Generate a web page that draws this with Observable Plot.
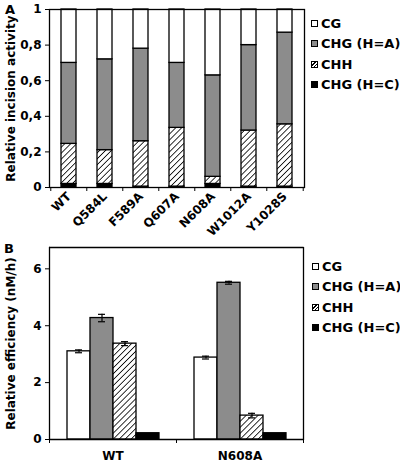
<!DOCTYPE html>
<html>
<head>
<meta charset="utf-8">
<script src="https://cdn.jsdelivr.net/npm/d3@7"></script>
<script src="https://cdn.jsdelivr.net/npm/@observablehq/plot@0.6"></script>
<style>
  html, body { margin: 0; padding: 0; background: #fff; }
  #wrap { position: relative; width: 400px; height: 463px; font-family: "DejaVu Sans", sans-serif; font-weight: bold; color: #000; }
  #wrap svg { display: block; }
  .lg { position: absolute; font-size: 13px; line-height: 15px; white-space: nowrap; }
  .lg .sw { position: absolute; left: 0; top: 4px; width: 7px; height: 7px; box-sizing: border-box; border: 1px solid #000; }
  .lg span.t { position: absolute; left: 10px; top: 0; }
  .panel { position: absolute; font-size: 13px; }
</style>
</head>
<body>
<div id="wrap"></div>
<script>
// ---------- data ----------
const seriesNames = ["CG", "CHG (H=A)", "CHH", "CHG (H=C)"];
const stackOrder = ["CHG (H=C)", "CHH", "CHG (H=A)", "CG"];

// Panel A: relative incision activity (segment sizes)
const mutantsA = ["WT", "Q584L", "F589A", "Q607A", "N608A", "W1012A", "Y1028S"];
const cgA   = [0.30, 0.28, 0.22, 0.30, 0.37, 0.20, 0.13];
const chgAA = [0.455, 0.51, 0.52, 0.365, 0.57, 0.48, 0.515];
const chhA  = [0.225, 0.19, 0.255, 0.33, 0.04, 0.315, 0.35];
const chgCA = [0.02, 0.02, 0.005, 0.005, 0.02, 0.005, 0.005];
const yTicksA = [0, 0.2, 0.4, 0.6, 0.8, 1];
const yTickLabelsA = ["0", "0,2", "0,4", "0,6", "0,8", "1"];

// Panel B: relative efficiency (nM/h)
const mutantsB = ["WT", "N608A"];
const cgB   = [3.10, 2.88];
const chgAB = [4.27, 5.51];
const chhB  = [3.37, 0.84];
const chgCB = [0.22, 0.22];
const errCgB   = [0.05, 0.05];
const errChgAB = [0.13, 0.05];
const errChhB  = [0.07, 0.08];
const errChgCB = [0, 0];
const yTicksB = [0, 2, 4, 6];
const yTickLabelsB = ["0", "2", "4", "6"];
const yMaxB = 6.75;

// ---------- styles ----------
const fills = ["#ffffff", "#8c8c8c", "url(#hatch)", "#000000"];
const W = 400;
const font = {fontFamily: "DejaVu Sans, sans-serif", fontWeight: "bold", fontSize: "12px", color: "#000", background: "#fff", overflow: "visible"};

const hatchDefs = `<defs><pattern id="hatch" patternUnits="userSpaceOnUse" width="4.2" height="4.2" patternTransform="rotate(45)">
<rect width="4.2" height="4.2" fill="#fff"/><line x1="0" y1="0" x2="0" y2="4.2" stroke="#000" stroke-width="1.6"/></pattern></defs>`;

// ---------- Panel A ----------
const valsA = {"CG": cgA, "CHG (H=A)": chgAA, "CHH": chhA, "CHG (H=C)": chgCA};
const dataA = [];
mutantsA.forEach((m, i) => stackOrder.forEach(s => dataA.push({mutant: m, series: s, value: valsA[s][i]})));

const mlA = 49, mrA = 96;
const stepA = (W - mlA - mrA) / mutantsA.length;

const plotA = Plot.plot({
  width: W, height: 231,
  marginLeft: mlA, marginRight: mrA, marginTop: 9, marginBottom: 44,
  style: font,
  x: {domain: mutantsA, paddingInner: 0.59, paddingOuter: 0.295, axis: null},
  y: {domain: [0, 1], axis: null},
  color: {domain: seriesNames, range: fills, type: "ordinal"},
  marks: [
    Plot.barY(dataA, Plot.stackY({x: "mutant", y: "value", fill: "series", order: stackOrder, stroke: "#000", strokeWidth: 1.3})),
    Plot.frame({stroke: "#000", strokeWidth: 1.3}),
    Plot.axisY({ticks: yTicksA, tickFormat: (d) => yTickLabelsA[yTicksA.indexOf(d)], tickSize: 4, tickPadding: 4, fontSize: 12,
      label: "Relative incision activity", labelAnchor: "center", labelArrow: "none", labelOffset: 43}),
    Plot.axisX({tickSize: 0, tickRotate: -45, tickPadding: 7, fontSize: 12, label: null}),
    Plot.axisX({tickSize: 4, tickFormat: () => "", dx: -stepA / 2, label: null}),
    Plot.axisX({ticks: [mutantsA[mutantsA.length - 1]], tickSize: 4, tickFormat: () => "", dx: stepA / 2, label: null})
  ]
});
plotA.insertAdjacentHTML("afterbegin", hatchDefs);

// ---------- Panel B ----------
const valsB = {"CG": cgB, "CHG (H=A)": chgAB, "CHH": chhB, "CHG (H=C)": chgCB};
const errsB = {"CG": errCgB, "CHG (H=A)": errChgAB, "CHH": errChhB, "CHG (H=C)": errChgCB};
const dataB = [];
mutantsB.forEach((m, i) => seriesNames.forEach(s => dataB.push({mutant: m, series: s, value: valsB[s][i], err: errsB[s][i]})));
const errDataB = dataB.filter(d => d.err > 0);

const mlB = 49, mrB = 97;
const facetW = (W - mlB - mrB) / mutantsB.length;

const plotB = Plot.plot({
  width: W, height: 232,
  marginLeft: mlB, marginRight: mrB, marginTop: 16, marginBottom: 24,
  style: font,
  fx: {domain: mutantsB, padding: 0, axis: null},
  x: {domain: seriesNames, paddingInner: 0, paddingOuter: 0.76, axis: null},
  y: {domain: [0, yMaxB], axis: null},
  color: {domain: seriesNames, range: fills, type: "ordinal"},
  marks: [
    Plot.barY(dataB, {fx: "mutant", x: "series", y: "value", fill: "series", stroke: "#000", strokeWidth: 1.3}),
    Plot.ruleX(errDataB, {fx: "mutant", x: "series", y1: d => d.value - d.err, y2: d => d.value + d.err, stroke: "#000", strokeWidth: 1.2}),
    Plot.tickY(errDataB, {fx: "mutant", x: "series", y: d => d.value - d.err, insetLeft: 8, insetRight: 8, stroke: "#000", strokeWidth: 1.2}),
    Plot.tickY(errDataB, {fx: "mutant", x: "series", y: d => d.value + d.err, insetLeft: 8, insetRight: 8, stroke: "#000", strokeWidth: 1.2}),
    Plot.ruleY([0, yMaxB], {stroke: "#000", strokeWidth: 1.3}),
    Plot.frame({anchor: "left", facetAnchor: "left", stroke: "#000", strokeWidth: 1.3}),
    Plot.frame({anchor: "right", facetAnchor: "right", stroke: "#000", strokeWidth: 1.3}),
    Plot.axisY({ticks: yTicksB, tickFormat: (d) => yTickLabelsB[yTicksB.indexOf(d)], tickSize: 4, tickPadding: 4, fontSize: 12, facetAnchor: "left",
      label: "Relative efficiency (nM/h)", labelAnchor: "center", labelArrow: "none", labelOffset: 43}),
    Plot.axisFx({anchor: "bottom", tickSize: 0, tickPadding: 12, fontSize: 12, label: null}),
    Plot.axisFx({anchor: "bottom", tickSize: 4, tickFormat: () => "", dx: -facetW / 2, label: null}),
    Plot.axisFx({anchor: "bottom", ticks: [mutantsB[mutantsB.length - 1]], tickSize: 4, tickFormat: () => "", dx: facetW / 2, label: null})
  ]
});
plotB.insertAdjacentHTML("afterbegin", hatchDefs.replace(/hatch/g, "hatchB"));
plotB.querySelectorAll('[fill="url(#hatch)"]').forEach(el => el.setAttribute("fill", "url(#hatchB)"));

// ---------- assemble ----------
const wrap = document.getElementById("wrap");
wrap.appendChild(plotA);
wrap.appendChild(plotB);

function addLegend(top0, left0) {
  seriesNames.forEach((s, i) => {
    const div = document.createElement("div");
    div.className = "lg";
    div.style.left = left0 + "px";
    div.style.top = (top0 + i * 20.3) + "px";
    const sw = document.createElement("div");
    sw.className = "sw";
    if (s === "CHH") {
      sw.style.background = "repeating-linear-gradient(-45deg, #fff 0 1.5px, #000 1.5px 2.5px)";
    } else {
      sw.style.background = fills[i];
    }
    const t = document.createElement("span");
    t.className = "t";
    t.textContent = s;
    div.appendChild(sw);
    div.appendChild(t);
    wrap.appendChild(div);
  });
}
addLegend(16, 311);
addLegend(259, 312);

function addPanelLabel(txt, left, top) {
  const d = document.createElement("div");
  d.className = "panel";
  d.style.left = left + "px";
  d.style.top = top + "px";
  d.textContent = txt;
  wrap.appendChild(d);
}
addPanelLabel("A", 5, 2);
addPanelLabel("B", 4, 241);
</script>
</body>
</html>
